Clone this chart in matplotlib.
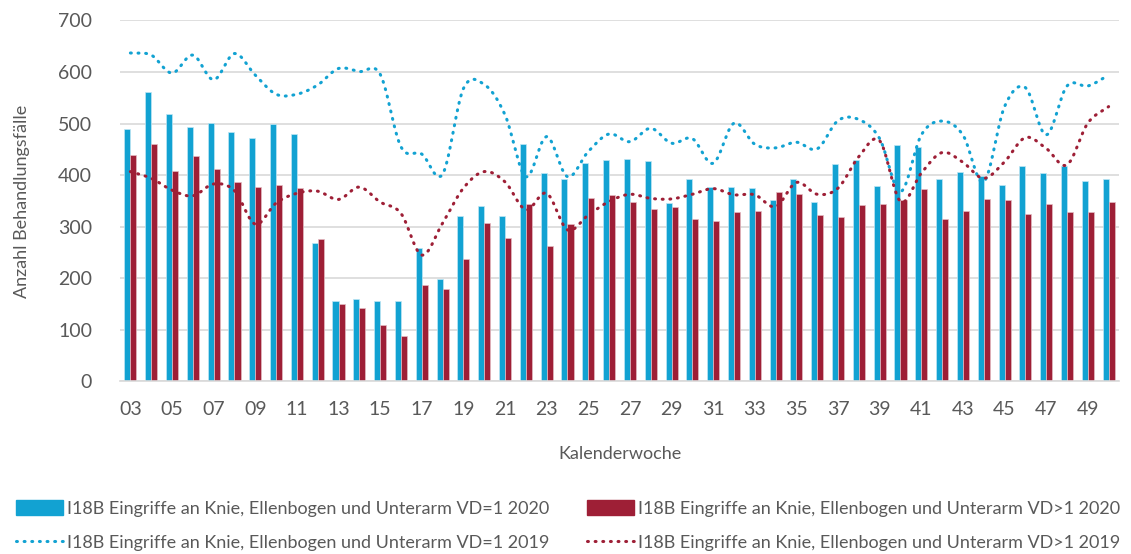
import numpy as np
import matplotlib.pyplot as plt
from matplotlib.patches import Patch
from matplotlib.lines import Line2D

plt.rcParams['font.family'] = ['Lato', 'DejaVu Sans']

# Kalenderwochen 03..50
weeks = [f"{w:02d}" for w in range(3, 51)]

vd1_2020 = [489, 561, 518, 493, 501, 484, 473, 499, 480, 268, 157, 159, 157, 157, 258, 199,
            320, 340, 320, 461, 405, 393, 424, 429, 432, 428, 346, 392, 378, 377, 376, 351,
            392, 349, 421, 429, 379, 459, 455, 393, 406, 399, 381, 417, 405, 417, 389, 393]
vdg1_2020 = [439, 461, 408, 437, 413, 387, 378, 381, 375, 276, 151, 143, 109, 88, 187, 179,
             237, 307, 278, 345, 262, 305, 356, 362, 349, 335, 338, 316, 311, 328, 331, 367,
             363, 322, 318, 342, 345, 352, 373, 316, 331, 354, 351, 325, 344, 329, 329, 349]
vd1_2019 = [637, 633, 598, 633, 585, 636, 594, 557, 557, 575, 607, 601, 596, 455, 441, 402,
            568, 576, 517, 397, 475, 397, 446, 480, 465, 491, 462, 471, 423, 501, 460, 453,
            464, 451, 506, 508, 471, 368, 478, 505, 478, 387, 533, 570, 478, 573, 573, 594]
vdg1_2019 = [407, 394, 371, 360, 383, 370, 305, 346, 365, 369, 353, 377, 348, 326, 245, 307,
             375, 407, 387, 333, 365, 294, 323, 349, 363, 355, 354, 363, 374, 362, 362, 339,
             386, 363, 375, 436, 467, 349, 404, 444, 425, 394, 426, 473, 452, 420, 501, 533]

labels = ["I18B Eingriffe an Knie, Ellenbogen und Unterarm VD=1 2020",
          "I18B Eingriffe an Knie, Ellenbogen und Unterarm VD>1 2020",
          "I18B Eingriffe an Knie, Ellenbogen und Unterarm VD=1 2019",
          "I18B Eingriffe an Knie, Ellenbogen und Unterarm VD>1 2019"]

blue = '#12a2d2'
red = '#9e1f36'
grey = '#595959'


def smooth(x, y, n=12):
    # Catmull-Rom Kurve durch die Wochenwerte (geglaettete Linie)
    x = np.asarray(x, float)
    y = np.asarray(y, float)
    px = np.concatenate([[2 * x[0] - x[1]], x, [2 * x[-1] - x[-2]]])
    py = np.concatenate([[2 * y[0] - y[1]], y, [2 * y[-1] - y[-2]]])
    xs, ys = [], []
    t = np.linspace(0, 1, n, endpoint=False)
    for i in range(1, len(px) - 2):
        for p, out in ((px, xs), (py, ys)):
            p0, p1, p2, p3 = p[i - 1], p[i], p[i + 1], p[i + 2]
            out.extend(0.5 * (2 * p1 + (-p0 + p2) * t + (2 * p0 - 5 * p1 + 4 * p2 - p3) * t ** 2
                              + (-p0 + 3 * p1 - 3 * p2 + p3) * t ** 3))
    xs.append(x[-1])
    ys.append(y[-1])
    return np.array(xs), np.array(ys)


fig = plt.figure(figsize=(11.31, 5.54), dpi=100)
ax = fig.add_axes([0.1061, 0.3114, 0.8833, 0.6516])

x = np.arange(len(weeks))
w = 0.29
ax.bar(x - w / 2, vd1_2020, w, color=blue, edgecolor='#bfe6f4', linewidth=0.5, zorder=2)
ax.bar(x + w / 2, vdg1_2020, w, color=red, edgecolor='#e3bcc3', linewidth=0.5, zorder=2)

dot = dict(linewidth=2.2, linestyle=(0, (0.3, 2.2)), dash_capstyle='round', zorder=3)
sx, sy = smooth(x, vd1_2019)
ax.plot(sx, sy, color=blue, **dot)
sx, sy = smooth(x, vdg1_2019)
ax.plot(sx, sy, color=red, **dot)

ax.set_xlim(-0.5, len(weeks) - 0.5)
ax.set_ylim(0, 700)
ax.set_yticks(range(0, 701, 100))
ax.set_xticks(x[::2])
ax.set_xticklabels(weeks[::2])
ax.grid(axis='y', color='#d9d9d9', linewidth=1.2, zorder=0)
ax.set_axisbelow(True)
for s in ['top', 'right', 'left']:
    ax.spines[s].set_visible(False)
ax.spines['bottom'].set_color('#d9d9d9')
ax.spines['bottom'].set_linewidth(1.2)
ax.tick_params(length=0, labelsize=14, colors=grey, pad=14)
ax.tick_params(axis='y', pad=20)

ax.set_xlabel('Kalenderwoche', fontsize=13, color=grey, labelpad=20)
ax.set_ylabel('Anzahl Behandlungsfälle', fontsize=13, color=grey, labelpad=20)

# zwei Legendenspalten, einzeln platziert
leg_kw = dict(loc='lower left', frameon=False, fontsize=13, labelcolor=grey,
              handlelength=2.6, handleheight=0.9, handletextpad=0.25, labelspacing=0.95,
              borderaxespad=0, borderpad=0)
fig.legend([Patch(color=blue), Line2D([], [], color=blue, **dot)],
           [labels[0], labels[2]], bbox_to_anchor=(0.014, 0.006), **leg_kw)
fig.legend([Patch(color=red), Line2D([], [], color=red, **dot)],
           [labels[1], labels[3]], bbox_to_anchor=(0.519, 0.006), **leg_kw)

fig.savefig('out.png', dpi=100)
